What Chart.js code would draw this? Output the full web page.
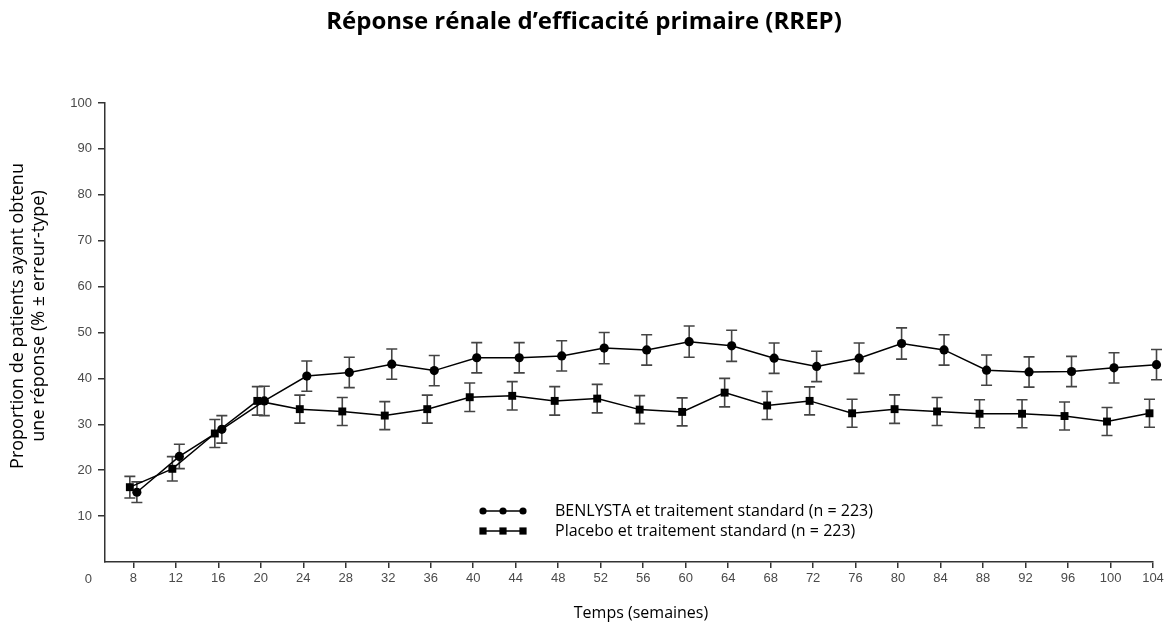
<!DOCTYPE html>
<html><head><meta charset="utf-8">
<script src="https://cdn.jsdelivr.net/npm/chart.js@4.4.1/dist/chart.umd.min.js"></script>
<style>html,body{margin:0;padding:0;background:#fff;}#wrap{width:1169px;height:626px;position:relative;}</style>
</head><body><div id="wrap"><canvas id="c" width="1169" height="626"></canvas></div>
<script>
const chartTitle = "Réponse rénale d’efficacité primaire (RREP)";
const xAxisTitle = "Temps (semaines)";
const yAxisTitle = ["Proportion de patients ayant obtenu", "une réponse (% ± erreur-type)"];
const weeks = [8, 12, 16, 20, 24, 28, 32, 36, 40, 44, 48, 52, 56, 60, 64, 68, 72, 76, 80, 84, 88, 92, 96, 100, 104];
const yTicks = [0, 10, 20, 30, 40, 50, 60, 70, 80, 90, 100];
const seriesLabels = ["BENLYSTA et traitement standard (n = 223)", "Placebo et traitement standard (n = 223)"];
const benlysta = [15.2, 23.0, 28.9, 35.1, 40.5, 41.3, 43.1, 41.7, 44.5, 44.5, 44.9, 46.6, 46.2, 48.0, 47.1, 44.4, 42.6, 44.4, 47.6, 46.2, 41.8, 41.4, 41.5, 42.3, 43.0];
const benlystaSE = [2.25, 2.65, 3.0, 3.2, 3.3, 3.3, 3.3, 3.3, 3.3, 3.3, 3.3, 3.4, 3.3, 3.4, 3.4, 3.3, 3.3, 3.3, 3.4, 3.3, 3.3, 3.3, 3.3, 3.3, 3.3];
const placebo = [16.3, 20.3, 28.0, 35.1, 33.3, 32.8, 31.9, 33.3, 35.9, 36.2, 35.1, 35.6, 33.2, 32.7, 36.9, 34.1, 35.1, 32.4, 33.3, 32.8, 32.3, 32.3, 31.8, 30.6, 32.4];
const placeboSE = [2.35, 2.65, 3.05, 3.1, 3.05, 3.05, 3.05, 3.05, 3.1, 3.1, 3.1, 3.1, 3.05, 3.05, 3.1, 3.05, 3.05, 3.05, 3.1, 3.05, 3.05, 3.05, 3.05, 3.05, 3.05];

const FONT = "'Open Sans', 'Noto Sans', sans-serif";
const TICKFONT = "'Liberation Sans', Arial, sans-serif";
const TICKCOLOR = '#4a4a4a';
const AXISCOLOR = '#333333';
const DODGE = 0.33;

function makePoints(vals, offset) { return weeks.map((w, i) => ({ x: w + offset, y: vals[i] })); }

const errors = [benlystaSE, placeboSE];

const extras = {
  id: 'extras',
  beforeDatasetsDraw(chart) {
    const ctx = chart.ctx, ys = chart.scales.y;
    ctx.save();
    ctx.strokeStyle = '#444';
    ctx.lineWidth = 1.6;
    chart.data.datasets.forEach((ds, i) => {
      const meta = chart.getDatasetMeta(i);
      meta.data.forEach((pt, j) => {
        const v = ds.data[j].y, e = errors[i][j];
        const t = ys.getPixelForValue(v + e), b = ys.getPixelForValue(v - e);
        ctx.beginPath();
        ctx.moveTo(pt.x, t); ctx.lineTo(pt.x, b);
        ctx.moveTo(pt.x - 5.5, t); ctx.lineTo(pt.x + 5.5, t);
        ctx.moveTo(pt.x - 5.5, b); ctx.lineTo(pt.x + 5.5, b);
        ctx.stroke();
      });
    });
    ctx.restore();
  },
  afterDraw(chart) {
    const ctx = chart.ctx;
    ctx.save();
    // main title
    ctx.fillStyle = '#000';
    ctx.font = "bold 24px " + FONT;
    ctx.textAlign = 'center'; ctx.textBaseline = 'middle';
    ctx.fillText(chartTitle, 584, 22);
    // x title
    ctx.font = "16px " + FONT;
    ctx.fillText(xAxisTitle, 641, 613);
    // y title
    ctx.font = "18px " + FONT;
    ctx.save();
    ctx.translate(18, 316); ctx.rotate(-Math.PI / 2);
    ctx.fillText(yAxisTitle[0], 0, 0);
    ctx.restore();
    ctx.save();
    ctx.translate(39, 316); ctx.rotate(-Math.PI / 2);
    ctx.fillText(yAxisTitle[1], 0, 0);
    ctx.restore();
    // origin "0" label
    ctx.font = "13px " + TICKFONT;
    ctx.fillStyle = TICKCOLOR;
    ctx.textAlign = 'right';
    ctx.fillText(String(yTicks[0]), 92, 579);
    // legend
    const rows = [511, 531];
    chart.data.datasets.forEach((ds, i) => {
      const y = rows[i];
      ctx.strokeStyle = '#000'; ctx.lineWidth = 1.5;
      ctx.beginPath(); ctx.moveTo(483, y); ctx.lineTo(523, y); ctx.stroke();
      ctx.fillStyle = '#000';
      [483, 503, 523].forEach(x => {
        ctx.beginPath();
        if (ds.pointStyle === 'circle') ctx.arc(x, y, 3.6, 0, Math.PI * 2);
        else ctx.rect(x - 3.6, y - 3.6, 7.2, 7.2);
        ctx.fill();
      });
      ctx.font = "16px " + FONT;
      ctx.textAlign = 'left'; ctx.textBaseline = 'middle';
      ctx.fillText(ds.label, 555, y);
    });
    ctx.restore();
  }
};

new Chart(document.getElementById('c'), {
  type: 'line',
  data: {
    datasets: [
      { label: seriesLabels[0], data: makePoints(benlysta, DODGE), borderColor: '#000', borderWidth: 1.5,
        pointStyle: 'circle', pointRadius: 4.6, pointBackgroundColor: '#000', pointBorderColor: '#000', pointBorderWidth: 0, clip: false, tension: 0 },
      { label: seriesLabels[1], data: makePoints(placebo, -DODGE), borderColor: '#000', borderWidth: 1.5,
        pointStyle: 'rect', pointRadius: 5.6, pointBackgroundColor: '#000', pointBorderColor: '#000', pointBorderWidth: 0, clip: false, tension: 0 }
    ]
  },
  options: {
    responsive: false, animation: false, devicePixelRatio: 1,
    layout: { padding: { left: 0, right: 16, top: 103, bottom: 0 } },
    plugins: { legend: { display: false }, tooltip: { enabled: false }, title: { display: false } },
    scales: {
      x: {
        type: 'linear', min: 5.33, max: 104,
        afterBuildTicks(s) { s.ticks = weeks.map(v => ({ value: v })); },
        afterFit(s) { s.height = 64; },
        grid: { drawOnChartArea: false, drawTicks: true, tickLength: 6, color: AXISCOLOR, lineWidth: 1.5 },
        border: { display: true, color: AXISCOLOR, width: 1.5 },
        ticks: { color: TICKCOLOR, font: { family: TICKFONT, size: 13 }, padding: 3, maxRotation: 0, autoSkip: false }
      },
      y: {
        type: 'linear', min: 0, max: 100,
        afterBuildTicks(s) { s.ticks = yTicks.filter(v => v !== 0).map(v => ({ value: v })); },
        afterFit(s) { s.width = 105; },
        grid: { drawOnChartArea: false, drawTicks: true, tickLength: 7, color: AXISCOLOR, lineWidth: 1.5 },
        border: { display: true, color: AXISCOLOR, width: 1.5 },
        ticks: { color: TICKCOLOR, font: { family: TICKFONT, size: 13 }, padding: 6, autoSkip: false }
      }
    }
  },
  plugins: [extras]
});
</script></body></html>
